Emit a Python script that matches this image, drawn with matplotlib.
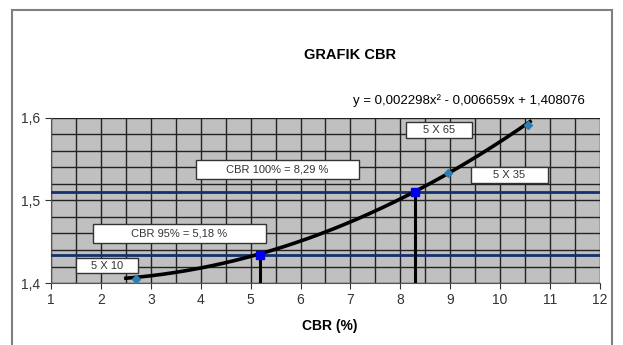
import numpy as np
import matplotlib
matplotlib.use('Agg')
import matplotlib.pyplot as plt
from matplotlib.patches import Rectangle
from matplotlib.ticker import MultipleLocator, FuncFormatter

plt.rcParams['font.family'] = ['Liberation Sans', 'DejaVu Sans']

# data points (CBR %, density)
cbr_pts = [2.7, 8.95, 10.55]
dens_pts = [1.405, 1.533, 1.592]
pt_labels = ['5 X 10', '5 X 35', '5 X 65']

# quadratic fit from the chart
coef = [0.002298, -0.006659, 1.408076]
fit_range = [2.5, 10.6]

# CBR 95% / 100% reading
cbr_read = [5.18, 8.29]
dens_read = [1.434, 1.510]
read_labels = ['CBR 95% = 5,18 %', 'CBR 100% = 8,29 %']

fig = plt.figure(figsize=(6.23, 3.45), dpi=100)
ax = fig.add_axes([0.0819, 0.1797, 0.963 - 0.0819, 0.658 - 0.1797])

# outer chart frame
fig.patches.append(Rectangle((12/623, -0.1), 600/623, 1.1 - 10/345, transform=fig.transFigure,
                             fill=False, edgecolor='#7f7f7f', lw=1.5))

ax.set_facecolor('#c0c0c0')
ax.set_xlim(1, 12)
ax.set_ylim(1.4, 1.6)
ax.xaxis.set_major_locator(MultipleLocator(1))
ax.xaxis.set_minor_locator(MultipleLocator(0.5))
ax.yaxis.set_major_locator(MultipleLocator(0.1))
ax.yaxis.set_minor_locator(MultipleLocator(0.02))
ax.grid(which='both', color='#222222', lw=1.0)
ax.set_axisbelow(True)
ax.yaxis.set_major_formatter(FuncFormatter(lambda v, p: f'{v:.1f}'.replace('.', ',')))
ax.tick_params(which='minor', length=0)
ax.tick_params(which='major', length=4, labelsize=10, colors='#333333')
for s in ax.spines.values():
    s.set_color('#555555')
ax.spines['top'].set_visible(False)
ax.spines['right'].set_visible(False)

# horizontal reference lines
for yv in dens_read:
    ax.axhline(yv, color='#14306e', lw=2.0, zorder=3)
# vertical drop lines
for xv, yv in zip(cbr_read, dens_read):
    ax.plot([xv, xv], [1.4, yv], color='black', lw=2.2, zorder=4)

xs = np.linspace(fit_range[0], fit_range[1], 200)
ax.plot(xs, np.polyval(coef, xs), color='black', lw=2.6, zorder=5)
ax.plot(cbr_pts, dens_pts, 'D', color='#2b7fb8', ms=4, zorder=6)
ax.plot(cbr_read, dens_read, 's', color='#0000ee', ms=6, zorder=6)

# label boxes (x0, x1, y0, y1 in data units)
boxes = [
    (pt_labels[0], 1.50, 2.743, 1.4121, 1.4303),
    (read_labels[0], 1.842, 5.308, 1.4485, 1.4715),
    (read_labels[1], 3.905, 7.171, 1.5261, 1.5491),
    (pt_labels[2], 8.113, 9.435, 1.5758, 1.5952),
    (pt_labels[1], 9.415, 10.958, 1.5212, 1.5406),
]
for txt, x0, x1, y0, y1 in boxes:
    ax.add_patch(Rectangle((x0, y0), x1 - x0, y1 - y0, fc='white', ec='#333333', lw=1.0, zorder=7))
    ax.text((x0 + x1) / 2, (y0 + y1) / 2, txt, ha='center', va='center', fontsize=8,
            color='#333333', zorder=8)

fig.text(350/623, 1 - 55/345, 'GRAFIK CBR', ha='center', va='center', fontsize=10.5, fontweight='bold')
fig.text(585/623, 1 - 101/345, 'y = 0,002298x² - 0,006659x + 1,408076', ha='right', va='center', fontsize=9.5)
fig.text(330/623, 1 - 326/345, 'CBR (%)', ha='center', va='center', fontsize=10, fontweight='bold')

fig.savefig('out.png', dpi=100)
